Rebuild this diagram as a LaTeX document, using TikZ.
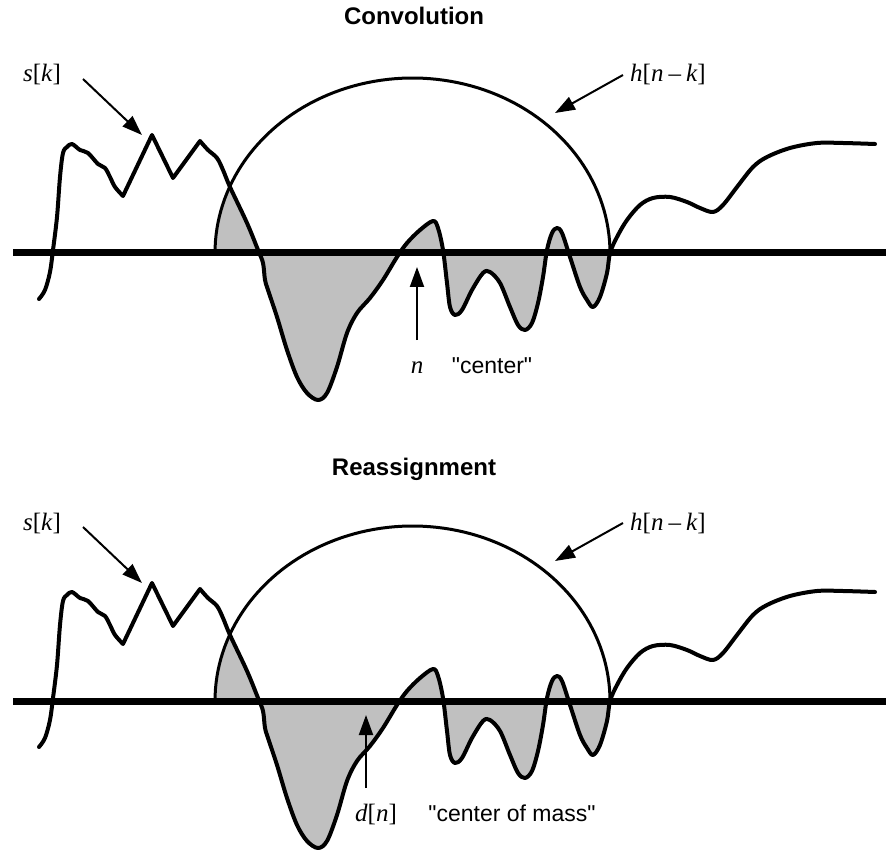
\documentclass[tikz,border=0pt]{standalone}
\usepackage{fontspec}
\setmainfont{Liberation Sans}[Ligatures=TeXOff]
\newfontfamily\tms{Liberation Serif}
\usetikzlibrary{arrows.meta}
\definecolor{shadegray}{RGB}{192,192,192}

\def\scurve{plot[smooth,tension=0.55] coordinates {(39,299) (45,290) (50,272) (53,250) (57,217) (60,177) (63,153) (67,147) (72,144) (80,150) (88,153) (98,164) (105,168) (110,177) (115,187) (123,196)} -- (152,135) -- (173,178) -- plot[smooth,tension=0.55] coordinates {(200,141) (208,150) (217,158) (223,170) (230,187) (247,223) (258,250) (263,263) (265,280) (268,290) (277,317) (287,350) (297,377) (307,393) (318,400) (327,393) (337,367) (347,333) (357,313) (370,298) (383,280) (397,257) (407,243) (420,230) (433,221) (438,228) (443,250) (447,283) (450,307) (455,315) (462,310) (472,290) (483,273) (490,272) (500,283) (510,307) (518,325) (525,330) (532,323) (538,303) (543,277) (547,250) (552,233) (557,228) (562,233) (570,257) (580,287) (587,300) (593,307) (600,297) (607,273) (610,253) (617,237) (627,220) (640,205) (653,198) (670,197) (687,202) (700,208) (713,212) (723,205) (737,187) (753,167) (767,157) (790,148) (817,143) (843,143) (875,144)}}

\def\winclip{plot[domain=180:0,samples=90] ({412.5+197.5*cos(\x)},{253-175*sin(\x)}) -- (610,460) -- (215,460) -- cycle}

\newcommand{\drawpanel}{%
  \begin{scope}
    \clip \winclip;
    \fill[shadegray] \scurve -- (875,253) -- (39,253) -- cycle;
  \end{scope}
  \draw[arcline] plot[domain=180:0,samples=90] ({412.5+197.5*cos(\x)},{253-175*sin(\x)});
  \draw[curveline] \scurve;
  \draw[axisline] (13,253) -- (886,253);
}

\begin{document}
\begin{tikzpicture}[x=1pt,y=-1pt,
  lbl/.style={font=\fontsize{23}{27}\selectfont, inner sep=0pt, anchor=base},
  mlbl/.style={font=\fontsize{25}{29}\selectfont\tms, inner sep=0pt, anchor=base},
  ttl/.style={font=\fontsize{24}{28}\selectfont\bfseries, inner sep=0pt, anchor=base},
  ptr/.style={line width=2pt, -{Triangle[length=20pt,width=14pt]}},
  arcline/.style={line width=3pt},
  curveline/.style={line width=4pt, line join=round, line cap=round},
  axisline/.style={line width=7pt}]
\useasboundingbox (0,0) rectangle (886,850);

% top panel
\node[ttl] (t1) at (414,25) {Convolution};
\begin{scope}
  \drawpanel
\end{scope}
\node[mlbl] (sk1) at (42,82) {\textit{s}[\textit{k}]};
\node[mlbl, anchor=base west] (hk1) at (630,82) {\textit{h}[\textit{n}\hspace{5pt}–\hspace{5pt}\textit{k}]};
\node[mlbl] (n1) at (417,373) {\textit{n}};
\node[lbl] (c1) at (492,373) {"center"};
\coordinate (sk1a) at (83,79);   \coordinate (sk1b) at (142,135);
\coordinate (hk1a) at (623,75);  \coordinate (hk1b) at (555,113);
\coordinate (n1a) at (417,340);  \coordinate (n1b) at (417,267);
\draw[ptr] (sk1a) -- (sk1b);
\draw[ptr] (hk1a) -- (hk1b);
\draw[ptr] (n1a) -- (n1b);

% bottom panel
\node[ttl] (t2) at (414,475) {Reassignment};
\begin{scope}[shift={(0,448)}]
  \drawpanel
\end{scope}
\node[mlbl] (sk2) at (42,530) {\textit{s}[\textit{k}]};
\node[mlbl, anchor=base west] (hk2) at (630,530) {\textit{h}[\textit{n}\hspace{5pt}–\hspace{5pt}\textit{k}]};
\node[mlbl] (d2) at (376,821) {\textit{d}[\textit{n}]};
\node[lbl] (c2) at (512,821) {"center of mass"};
\coordinate (sk2a) at (83,527);  \coordinate (sk2b) at (142,583);
\coordinate (hk2a) at (623,523); \coordinate (hk2b) at (555,561);
\coordinate (d2a) at (366,788);  \coordinate (d2b) at (366,715);
\draw[ptr] (sk2a) -- (sk2b);
\draw[ptr] (hk2a) -- (hk2b);
\draw[ptr] (d2a) -- (d2b);
\end{tikzpicture}
\end{document}
